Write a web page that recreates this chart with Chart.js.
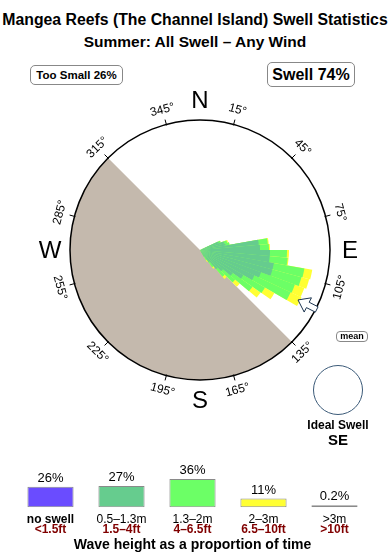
<!DOCTYPE html>
<html>
<head>
<meta charset="utf-8">
<script src="https://cdn.jsdelivr.net/npm/chart.js@4.4.0/dist/chart.umd.min.js"></script>
<style>
  body { margin: 0; width: 390px; height: 560px; background: #fff; position: relative; overflow: hidden;
         font-family: "Liberation Sans", Arial, sans-serif; color: #000; }
  .abs { position: absolute; }
  #title { left: 0; top: 9px; width: 390px; text-align: center; font-weight: bold; line-height: 22px; white-space: nowrap; }
  .box { border: 1px solid #888; border-radius: 5px; text-align: center; font-weight: bold; white-space: nowrap; }
  #tooSmall { left: 30px; top: 65px; width: 91px; height: 18px; line-height: 18px; font-size: 11.5px; }
  #swell { left: 267px; top: 62px; width: 86px; height: 23px; line-height: 23px; font-size: 16px; }
  #mean { left: 336px; top: 331px; width: 30px; height: 9px; line-height: 9px; font-size: 9px; border-radius: 4px; }
  #ideal { left: 313px; top: 365px; width: 48px; height: 48px; border: 1px solid #3b5a78; border-radius: 50%; }
  .idealText { left: 288px; width: 100px; text-align: center; font-weight: bold; }
  #rose { left: 0; top: 0; }
  #bars { left: 0; top: 455px; }
</style>
</head>
<body>
<div id="title" class="abs">
  <div style="font-size:15.8px">Mangea Reefs (The Channel Island) Swell Statistics</div>
  <div style="font-size:15.5px">Summer: All Swell – Any Wind</div>
</div>
<div id="tooSmall" class="abs box">Too Small 26%</div>
<div id="swell" class="abs box">Swell 74%</div>
<canvas id="rose" class="abs" width="390" height="450"></canvas>
<div id="mean" class="abs box">mean</div>
<div id="ideal" class="abs"></div>
<div class="abs idealText" style="top:418px;font-size:12px;line-height:14px">Ideal Swell</div>
<div class="abs idealText" style="top:431px;font-size:15px;line-height:17px">SE</div>
<canvas id="bars" class="abs" width="390" height="105"></canvas>
<script>
const FONT = '"Liberation Sans", Arial, sans-serif';

// swell rose: 5 degree bins, start bearing of each bin
const binStart = [65, 70, 75, 80, 85, 90, 95, 100, 105, 110, 115, 120, 125, 130, 135, 140, 145];
const swell05to13 = [2.0, 2.5, 2.6, 5.9, 6.0, 7.0, 7.0, 7.5, 7.5, 6.5, 6.0, 5.0, 4.0, 3.0, 2.5, 1.5, 0.8];
const swell13to2 = [0.2, 0.3, 0.4, 0.9, 0.9, 1.7, 1.8, 3.1, 3.0, 3.6, 4.0, 2.5, 2.4, 1.6, 1.0, 0.6, 0.4];
const swell2to3 = [0.0, 0.1, 0.0, 0.1, 0.1, 0.2, 0.1, 0.8, 0.8, 1.0, 1.2, 1.1, 1.0, 0.6, 0.3, 0.2, 0.2];
const roseMax = 13;

// land shading: start at north, spans in degrees
const landSpan = [135, 180, 45];
const landValue = [0, 13, 0];

const degreeTicks = [15, 45, 75, 105, 135, 165, 195, 225, 255, 285, 315, 345];
const cardinals = ['N', 'E', 'S', 'W'];
const cardinalBearing = [0, 90, 180, 270];
const meanBearing = 117;

// wave height legend
const heightClasses = ['no swell', '0.5–1.3m', '1.3–2m', '2–3m', '>3m'];
const heightFeet = ['<1.5ft', '1.5–4ft', '4–6.5ft', '6.5–10ft', '>10ft'];
const heightShare = [26, 27, 36, 11, 0.2];
const heightShareText = ['26%', '27%', '36%', '11%', '0.2%'];
const heightColors = ['#6a4cff', '#66cc8e', '#6cff66', '#ffff33', '#c0b0a8'];


function roseSeries(layers) {
  const out = new Array(72).fill(0);
  binStart.forEach((b, i) => {
    out[b / 5] = layers.reduce((s, arr) => s + arr[i], 0);
  });
  return out;
}

const compassPlugin = {
  id: 'compass',
  afterDraw(chart) {
    const r = chart.scales.r;
    const ctx = chart.ctx;
    const cx = r.xCenter, cy = r.yCenter, R = r.drawingArea;
    const pos = (b, d, off = 0) => {
      const a = (b - 90) * Math.PI / 180;
      return [cx + Math.cos(a) * d - Math.sin(a) * off, cy + Math.sin(a) * d + Math.cos(a) * off];
    };
    ctx.save();
    ctx.strokeStyle = '#000';
    ctx.lineWidth = 1;
    ctx.fillStyle = '#000';
    ctx.textAlign = 'center';
    ctx.textBaseline = 'middle';
    degreeTicks.forEach((b) => {
      const p1 = pos(b, R - 1), p2 = pos(b, R + 5);
      ctx.beginPath();
      ctx.moveTo(p1[0], p1[1]);
      ctx.lineTo(p2[0], p2[1]);
      ctx.stroke();
      const p = pos(b, R + 15);
      let rot = b;
      if (b > 90 && b < 270) rot = b - 180;
      else if (b >= 270) rot = b - 360;
      ctx.save();
      ctx.translate(p[0], p[1]);
      ctx.rotate(rot * Math.PI / 180);
      ctx.font = '12px ' + FONT;
      ctx.fillText(b + '°', 0, 0);
      ctx.restore();
    });
    ctx.font = '24px ' + FONT;
    cardinals.forEach((c, i) => {
      const p = pos(cardinalBearing[i], R + 20);
      ctx.fillText(c, p[0], p[1] + 1);
    });
    // mean direction arrow
    const pts = [[110, 0], [121, -8], [121, -3], [131, -3], [131, 3], [121, 3], [121, 8]];
    ctx.beginPath();
    pts.forEach((q, i) => {
      const p = pos(meanBearing, q[0], q[1]);
      if (i === 0) ctx.moveTo(p[0], p[1]); else ctx.lineTo(p[0], p[1]);
    });
    ctx.closePath();
    ctx.fillStyle = '#fff';
    ctx.fill();
    ctx.strokeStyle = '#1d3550';
    ctx.stroke();
    ctx.restore();
  }
};

new Chart(document.getElementById('rose'), {
  type: 'polarArea',
  data: {
    labels: new Array(72).fill(''),
    datasets: [
      { data: roseSeries([swell05to13]), backgroundColor: heightColors[1], borderWidth: 0 },
      { data: roseSeries([swell05to13, swell13to2]), backgroundColor: heightColors[2], borderWidth: 0 },
      { data: roseSeries([swell05to13, swell13to2, swell2to3]), backgroundColor: heightColors[3], borderWidth: 0 },
      { data: landValue, angle: (c) => landSpan[c.dataIndex], backgroundColor: '#c4b9ad', borderWidth: 0 },
    ],
  },
  options: {
    responsive: false,
    animation: false,
    layout: { padding: { left: 70, right: 60, top: 120, bottom: 70 } },
    plugins: { legend: { display: false }, tooltip: { enabled: false } },
    scales: {
      r: {
        min: 0,
        max: roseMax,
        startAngle: 0,
        ticks: { display: false, stepSize: roseMax },
        grid: { circular: true, color: '#000', lineWidth: 1.5, z: 1 },
        angleLines: { display: false },
        pointLabels: { display: false },
      },
    },
  },
  plugins: [compassPlugin],
});

// percentages above the bars and the feet row under the class names
const shareLabels = {
  id: 'shareLabels',
  afterDatasetsDraw(chart) {
    const ctx = chart.ctx;
    const meta = chart.getDatasetMeta(0);
    const x = chart.scales.x;
    const bottom = chart.chartArea.bottom;
    ctx.save();
    ctx.textAlign = 'center';
    ctx.textBaseline = 'alphabetic';
    ctx.font = '13px ' + FONT;
    ctx.fillStyle = '#000';
    meta.data.forEach((bar, i) => {
      ctx.fillText(heightShareText[i], bar.x, bar.y - 5);
    });
    ctx.textBaseline = 'middle';
    ctx.font = 'bold 12px ' + FONT;
    ctx.fillStyle = '#800000';
    heightFeet.forEach((t, i) => {
      ctx.fillText(t, x.getPixelForValue(i), bottom + 22);
    });
    ctx.restore();
  }
};

new Chart(document.getElementById('bars'), {
  type: 'bar',
  data: {
    labels: heightClasses,
    datasets: [{
      data: heightShare,
      backgroundColor: heightColors,
      borderColor: '#8a8a8a',
      borderWidth: 1,
      borderSkipped: false,
      barPercentage: 0.65,
      categoryPercentage: 1,
      minBarLength: 2,
    }],
  },
  options: {
    responsive: false,
    animation: false,
    layout: { padding: { left: 15, right: 20, top: 13, bottom: 6 } },
    plugins: {
      legend: { display: false },
      tooltip: { enabled: false },
      title: {
        display: true,
        position: 'bottom',
        text: 'Wave height as a proportion of time',
        color: '#000',
        font: { size: 14, weight: 'bold', family: FONT },
        padding: { top: 6, bottom: 0 },
      },
    },
    scales: {
      y: { display: false, min: 0, max: 50 },
      x: {
        grid: { display: false, drawTicks: false },
        border: { display: false },
        ticks: {
          color: '#000', padding: 6, maxRotation: 0, autoSkip: false,
          font: (c) => ({ size: 12, family: FONT, weight: c.index === 0 ? 'bold' : 'normal', lineHeight: 1 }),
        },
      },
    },
  },
  plugins: [shareLabels],
});
</script>
</body>
</html>
